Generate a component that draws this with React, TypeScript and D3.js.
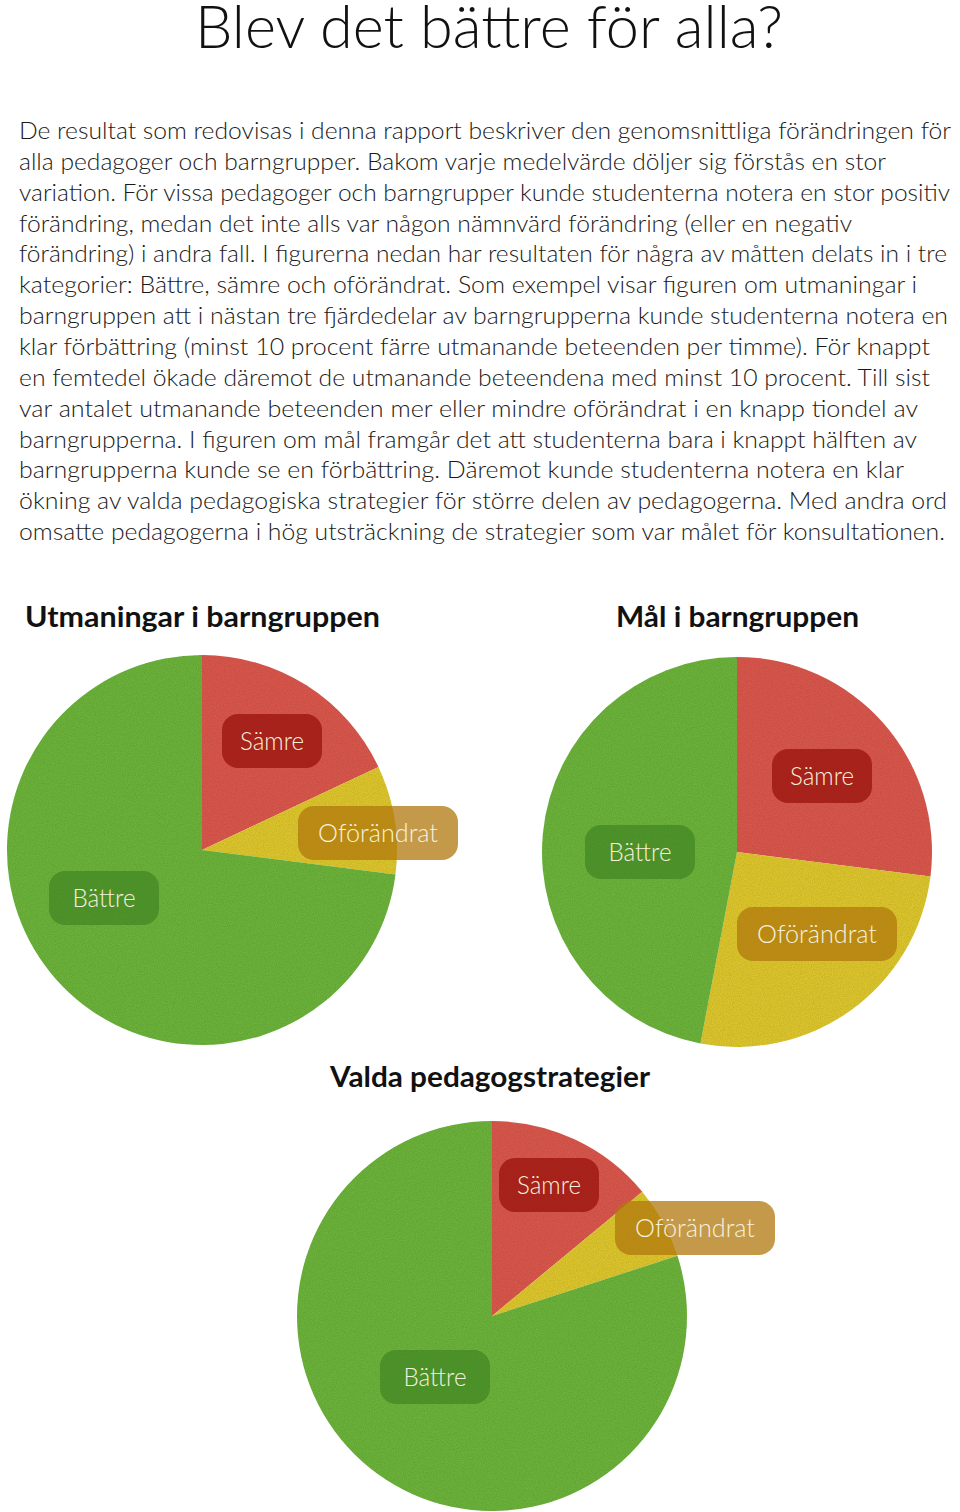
import React from "react";
import * as d3 from "d3";

// ---------- data ----------
const categories = ["Sämre", "Oförändrat", "Bättre"];
const utmaningarValues = [18, 9, 73];
const malValues = [27, 26, 47];
const valdaValues = [14, 6, 80];

const chartTitles = ["Utmaningar i barngruppen", "Mål i barngruppen", "Valda pedagogstrategier"];

const pageTitle = "Blev det bättre för alla?";
const bodyLines = [
  "De resultat som redovisas i denna rapport beskriver den genomsnittliga förändringen för",
  "alla pedagoger och barngrupper. Bakom varje medelvärde döljer sig förstås en stor",
  "variation. För vissa pedagoger och barngrupper kunde studenterna notera en stor positiv",
  "förändring, medan det inte alls var någon nämnvärd förändring (eller en negativ",
  "förändring) i andra fall. I figurerna nedan har resultaten för några av måtten delats in i tre",
  "kategorier: Bättre, sämre och oförändrat. Som exempel visar figuren om utmaningar i",
  "barngruppen att i nästan tre fjärdedelar av barngrupperna kunde studenterna notera en",
  "klar förbättring (minst 10 procent färre utmanande beteenden per timme). För knappt",
  "en femtedel ökade däremot de utmanande beteendena med minst 10 procent. Till sist",
  "var antalet utmanande beteenden mer eller mindre oförändrat i en knapp tiondel av",
  "barngrupperna. I figuren om mål framgår det att studenterna bara i knappt hälften av",
  "barngrupperna kunde se en förbättring. Däremot kunde studenterna notera en klar",
  "ökning av valda pedagogiska strategier för större delen av pedagogerna. Med andra ord",
  "omsatte pedagogerna i hög utsträckning de strategier som var målet för konsultationen.",
];

// ---------- layout / style ----------
const W = 960;
const H = 1512;
const bodyLineWidths = [932, 867, 931, 833, 928, 898, 929, 911, 911, 899, 898, 885, 928, 926];
const sliceColors = ["#d8564b", "#dcc52c", "#6bb23a"];
const boxColors = ["rgba(150,15,10,0.72)", "rgba(176,120,14,0.75)", "rgba(60,128,32,0.62)"];
const boxWidths = [100, 160, 110];
const labelTextWidths = [64, 120, 63];
const lightFont = "Lato, 'Open Sans', 'DejaVu Sans', sans-serif";

const charts = [
  {
    values: utmaningarValues,
    cx: 202, cy: 850, r: 195,
    title: { x: 25, y: 627, w: 355 },
    labels: [[70, -109], [176, -17], [-98, 48]],
  },
  {
    values: malValues,
    cx: 737, cy: 852, r: 195,
    title: { x: 616, y: 627, w: 243 },
    labels: [[85, -76], [80, 82], [-97, 0]],
  },
  {
    values: valdaValues,
    cx: 492, cy: 1316, r: 195,
    title: { x: 330, y: 1087, w: 320 },
    labels: [[57, -131], [203, -88], [-57, 61]],
  },
];

function Pie({ chart, idx }: { chart: (typeof charts)[number]; idx: number }) {
  const pie = d3.pie<number>().sort(null).startAngle(0).endAngle(2 * Math.PI);
  const arcs = pie(chart.values);
  const arc = d3.arc<d3.PieArcDatum<number>>().innerRadius(0).outerRadius(chart.r);
  return (
    <g>
      <text
        x={chart.title.x}
        y={chart.title.y}
        fontFamily={lightFont}
        fontWeight={700}
        fontSize={29}
        fill="#111"
        textLength={chart.title.w}
        lengthAdjust="spacingAndGlyphs"
      >
        {chartTitles[idx]}
      </text>
      <g transform={`translate(${chart.cx},${chart.cy})`}>
        {arcs.map((a, i) => (
          <path key={i} d={arc(a) || ""} fill={sliceColors[i]} />
        ))}
        <circle r={chart.r} fill="#000" filter="url(#felt)" opacity={0.35} />
        {arcs.map((a, i) => {
          const [dx, dy] = chart.labels[i];
          const bw = boxWidths[i];
          const bh = 54;
          return (
            <g key={"l" + i} transform={`translate(${dx},${dy})`}>
              <rect x={-bw / 2} y={-bh / 2} width={bw} height={bh} rx={16} fill={boxColors[i]} />
              <text
                x={0}
                y={9}
                textAnchor="middle"
                fontFamily={lightFont}
                fontWeight={300}
                fontSize={25}
                fill="#f6f1dc"
                textLength={labelTextWidths[i]}
                lengthAdjust="spacingAndGlyphs"
              >
                {categories[i]}
              </text>
            </g>
          );
        })}
      </g>
    </g>
  );
}

export default function App() {
  return (
    <svg
      width={W}
      height={H}
      viewBox={`0 0 ${W} ${H}`}
      style={{ position: "absolute", left: 0, top: 0, background: "#fff" }}
    >
      <defs>
        <filter id="felt" x="0" y="0" width="100%" height="100%">
          <feTurbulence type="fractalNoise" baseFrequency="0.9" numOctaves="2" seed="3" result="t" />
          <feColorMatrix
            in="t"
            type="matrix"
            values="0 0 0 0 0  0 0 0 0 0  0 0 0 0 0  0 0 0 -0.5 0.35"
            result="n"
          />
          <feComposite in="n" in2="SourceGraphic" operator="in" />
        </filter>
      </defs>
      <rect width={W} height={H} fill="#fff" />
      <text
        x={195}
        y={48}
        fontFamily={lightFont}
        fontWeight={300}
        fontSize={60}
        fill="#111"
        textLength={588}
        lengthAdjust="spacingAndGlyphs"
      >
        {pageTitle}
      </text>
      {bodyLines.map((line, i) => (
        <text
          key={i}
          x={19}
          y={139 + i * 30.85}
          fontFamily={lightFont}
          fontWeight={300}
          fontSize={24}
          fill="#1a1a1a"
          textLength={bodyLineWidths[i]}
          lengthAdjust="spacingAndGlyphs"
        >
          {line}
        </text>
      ))}
      {charts.map((c, i) => (
        <Pie key={i} chart={c} idx={i} />
      ))}
    </svg>
  );
}
